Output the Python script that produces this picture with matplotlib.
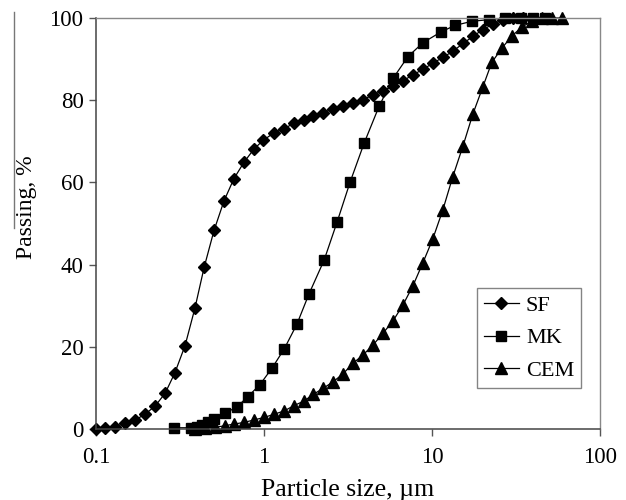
import numpy as np
import matplotlib
matplotlib.use('Agg')
import matplotlib.pyplot as plt
from matplotlib.lines import Line2D

plt.rcParams['font.family'] = ['Liberation Serif', 'DejaVu Serif']

# Particle size distributions
sf_size = [0.1, 0.113, 0.130, 0.149, 0.171, 0.196, 0.225, 0.258, 0.295, 0.339,
           0.388, 0.440, 0.504, 0.578, 0.662, 0.760, 0.871, 0.986, 1.15, 1.32,
           1.51, 1.73, 1.96, 2.25, 2.58, 2.95, 3.39, 3.88, 4.45, 5.11,
           5.86, 6.72, 7.71, 8.84, 10.1, 11.6, 13.3, 15.3, 17.5, 20.1,
           23.1, 26.5, 30.4, 34.8]
sf_pass = [0, 0.2, 0.6, 1.4, 2.2, 3.6, 5.6, 8.7, 13.7, 20.3,
           29.4, 39.3, 48.3, 55.5, 60.9, 64.9, 68.1, 70.2, 72.1, 73.1,
           74.4, 75.3, 76.2, 77.0, 77.9, 78.5, 79.3, 80.1, 81.3, 82.3,
           83.5, 84.7, 86.2, 87.5, 89.0, 90.4, 91.9, 93.8, 95.5, 97.2,
           98.5, 99.6, 100, 100]

mk_size = [0.291, 0.367, 0.399, 0.428, 0.465, 0.504, 0.586, 0.691, 0.803, 0.946,
           1.12, 1.32, 1.57, 1.85, 2.28, 2.72, 3.25, 3.94, 4.84, 5.86,
           7.19, 8.84, 11.3, 13.7, 17.3, 21.8, 27.2, 33.9, 39.9, 47.1]
mk_pass = [0.3, 0.3, 0.6, 1.0, 1.8, 2.4, 3.8, 5.4, 7.9, 10.8,
           14.9, 19.5, 25.5, 32.8, 41.1, 50.3, 60.0, 69.5, 78.5, 85.3,
           90.6, 94.0, 96.6, 98.2, 99.2, 99.6, 100, 100, 100, 100]

cem_size = [0.388, 0.445, 0.511, 0.586, 0.662, 0.760, 0.871, 1.0, 1.15, 1.32,
            1.51, 1.73, 1.96, 2.25, 2.58, 2.95, 3.39, 3.88, 4.45, 5.11,
            5.86, 6.72, 7.71, 8.84, 10.1, 11.6, 13.3, 15.3, 17.5, 20.1,
            22.7, 26.1, 29.9, 34.2, 39.2, 44.9, 51.5, 59.1]
cem_pass = [0, 0.2, 0.4, 0.8, 1.2, 1.6, 2.2, 2.8, 3.6, 4.4,
            5.7, 6.8, 8.4, 9.9, 11.5, 13.4, 16.0, 18.0, 20.4, 23.3,
            26.3, 30.2, 34.9, 40.5, 46.2, 53.3, 61.4, 68.9, 76.6, 83.3,
            89.2, 92.7, 95.6, 97.8, 99.2, 100, 100, 100]

x_ticks = [0.1, 1, 10, 100]
x_tick_labels = ['0.1', '1', '10', '100']
y_ticks = [0, 20, 40, 60, 80, 100]

fig = plt.figure(figsize=(6.26, 5.0), dpi=100)
ax = fig.add_axes([96 / 626, 1 - 429 / 500, 504 / 626, 411 / 500])

ax.plot(sf_size, sf_pass, color='black', lw=0.9, marker='D', ms=5.8, label='SF', clip_on=False)
ax.plot(mk_size, mk_pass, color='black', lw=0.9, marker='s', ms=7.5, label='MK', clip_on=False)
ax.plot(cem_size, cem_pass, color='black', lw=0.9, marker='^', ms=8, label='CEM', clip_on=False)

ax.set_xscale('log')
ax.set_xlim(0.1, 100)
ax.set_ylim(0, 100)
ax.set_xticks(x_ticks)
ax.set_xticklabels(x_tick_labels)
ax.xaxis.set_minor_locator(matplotlib.ticker.NullLocator())
ax.set_yticks(y_ticks)
ax.tick_params(axis='both', labelsize=16.5, length=5, width=1, color='#555555', direction='out')
ax.tick_params(axis='x', pad=8)
ax.tick_params(axis='y', pad=4)

for side in ['left', 'bottom']:
    ax.spines[side].set_color('#444444')
    ax.spines[side].set_linewidth(1.1)
for side in ['top', 'right']:
    ax.spines[side].set_color('#888888')
    ax.spines[side].set_linewidth(1.0)

ax.set_xlabel('Particle size, µm', fontsize=18.5, labelpad=8)
ax.set_ylabel('Passing, %', fontsize=17)
ax.yaxis.set_label_coords(-0.117, 0.54)

leg = ax.legend(loc='lower right', bbox_to_anchor=(0.962, 0.1), fontsize=16,
                frameon=True, fancybox=False, handlelength=1.6, handletextpad=0.3,
                borderpad=0.3, labelspacing=0.55, borderaxespad=0)
leg.get_frame().set_edgecolor('#666666')
leg.get_frame().set_linewidth(1.0)

# stray vertical rule at far left of the original scan
fig.add_artist(Line2D([14 / 626, 14 / 626], [1 - 12 / 500, 1 - 228 / 500],
                      color='#777777', lw=1.0))

fig.savefig('out.png', dpi=100)
